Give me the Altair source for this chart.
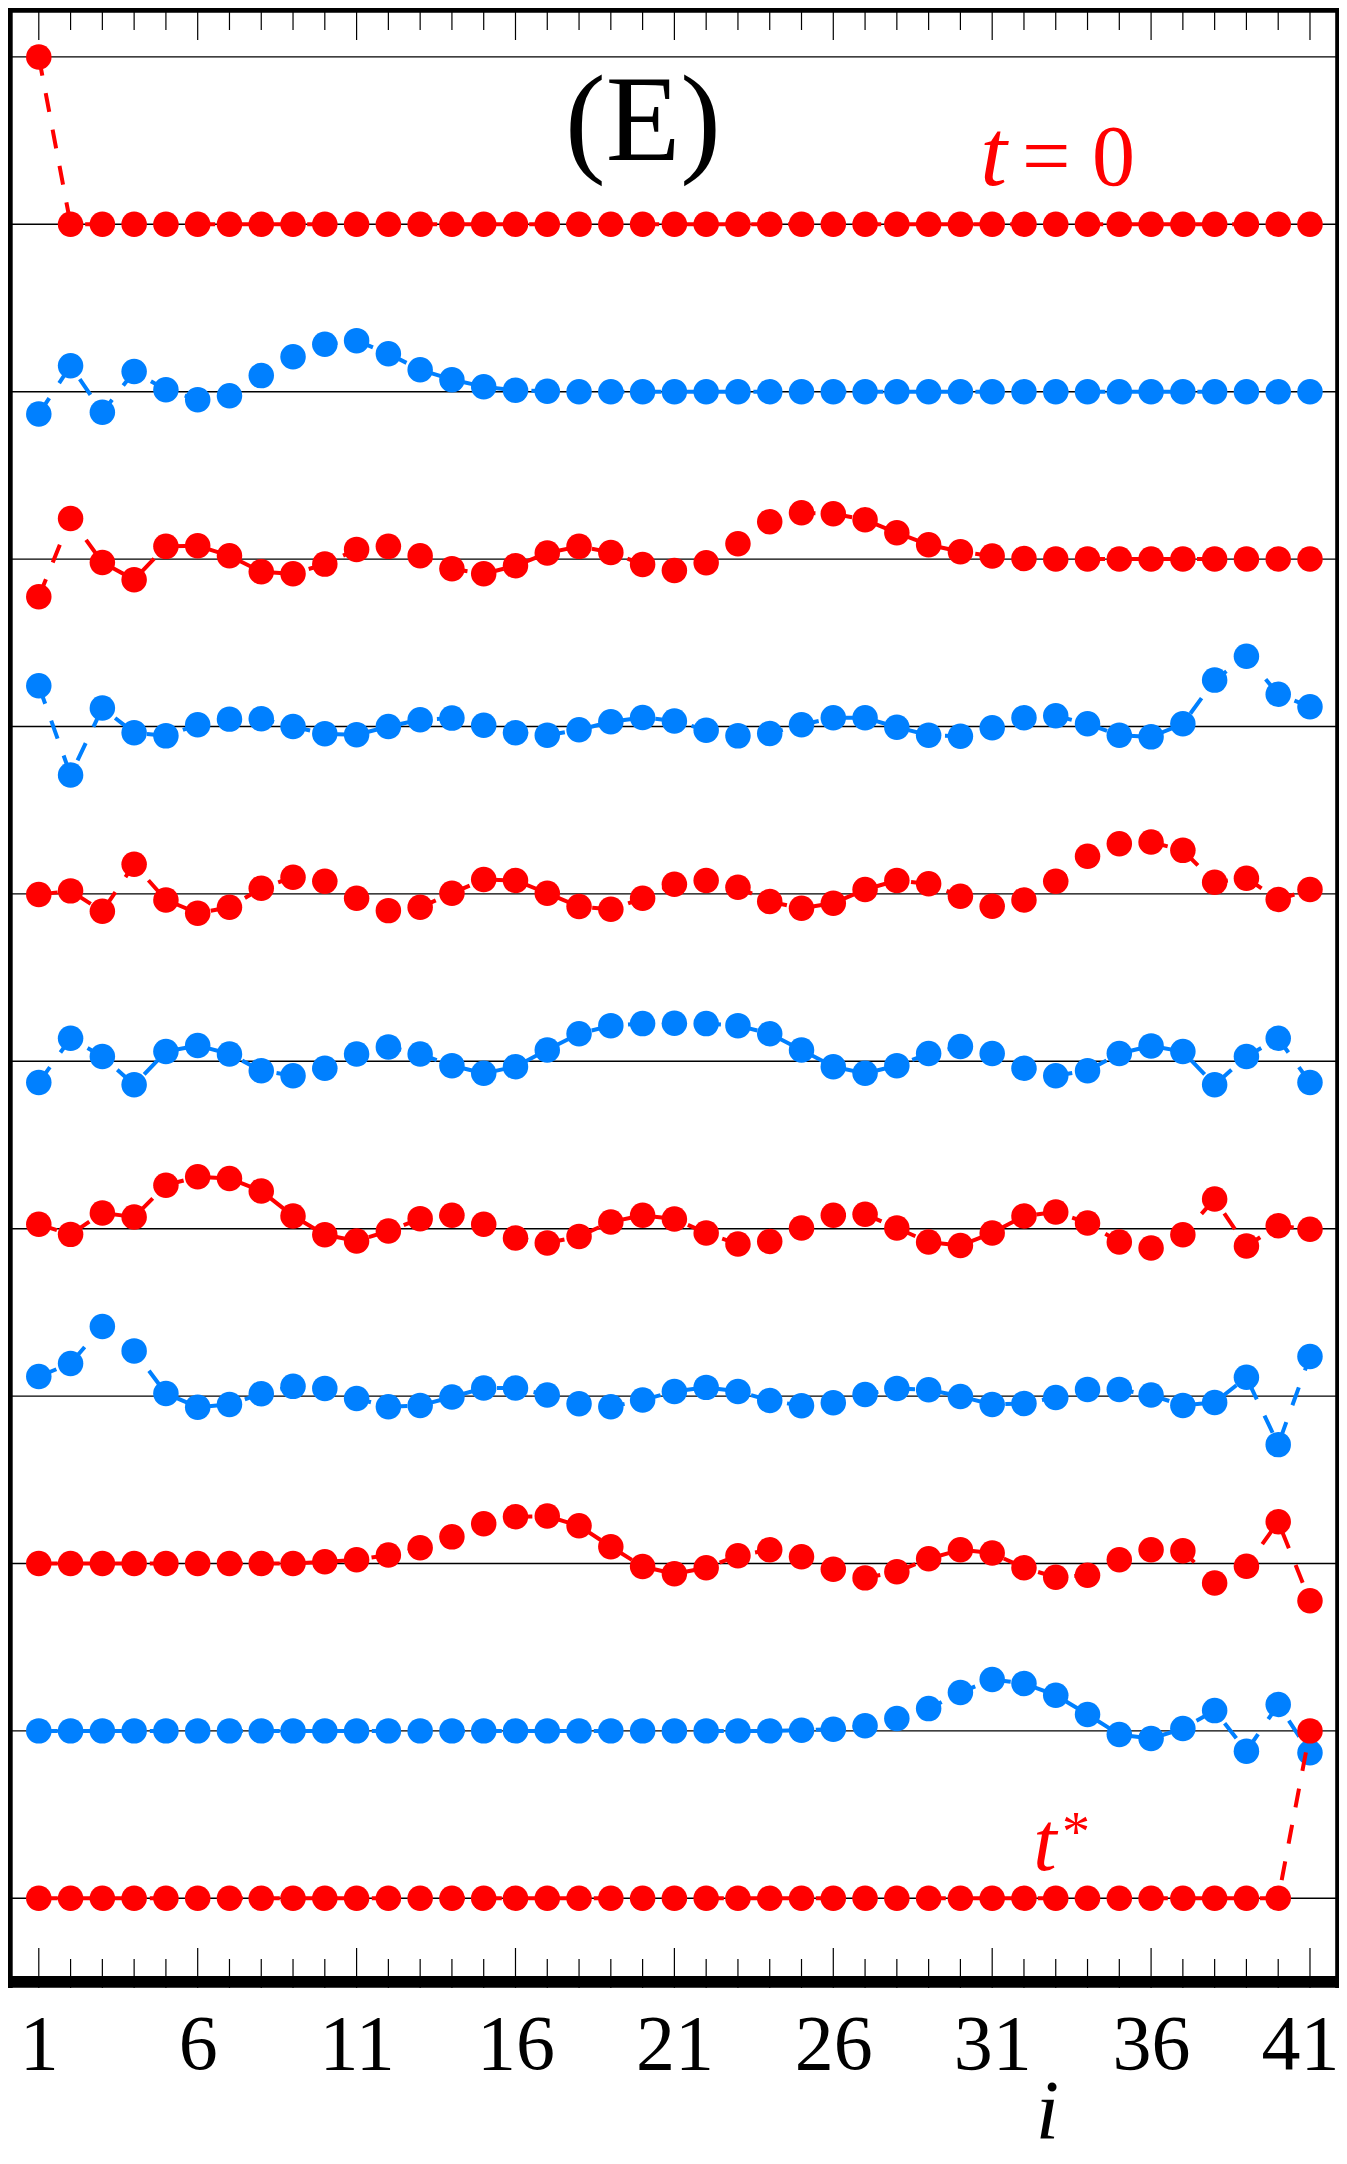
import altair as alt
import pandas as pd

# ---------------- data ----------------
i_values = list(range(1, 42))
major_ticks = [1, 6, 11, 16, 21, 26, 31, 36, 41]
minor_ticks = [k for k in i_values if k not in major_ticks]
tick_labels = [1, 6, 11, 16, 21, 26, 31, 36, 41]

row0 = [1.0, 0, 0, 0, 0, 0, 0, 0, 0, 0, 0, 0, 0, 0, 0, 0, 0, 0, 0, 0, 0,
        0, 0, 0, 0, 0, 0, 0, 0, 0, 0, 0, 0, 0, 0, 0, 0, 0, 0, 0, 0]
row1 = [-0.133, 0.155, -0.123, 0.120, 0.012, -0.048, -0.024, 0.096, 0.209, 0.283,
        0.305, 0.227, 0.131, 0.072, 0.030, 0.008, 0.002, 0, 0, 0,
        0, 0, 0, 0, 0, 0, 0, 0, 0, 0,
        0, 0, 0, 0, 0, 0, 0, 0, 0, 0, 0]
row2 = [-0.225, 0.243, -0.020, -0.123, 0.076, 0.080, 0.020, -0.076, -0.088, -0.030,
        0.058, 0.076, 0.020, -0.058, -0.088, -0.040, 0.036, 0.076, 0.040, -0.032,
        -0.068, -0.022, 0.092, 0.223, 0.277, 0.271, 0.235, 0.157, 0.086, 0.044,
        0.018, 0.004, 0, 0, 0, 0, 0, 0, 0, 0, 0]
row3 = [0.243, -0.290, 0.110, -0.038, -0.056, 0.010, 0.044, 0.046, 0.000, -0.044,
        -0.050, 0.000, 0.040, 0.050, 0.008, -0.038, -0.052, -0.020, 0.028, 0.054,
        0.033, -0.022, -0.056, -0.042, 0.010, 0.052, 0.052, -0.004, -0.052, -0.058,
        -0.008, 0.052, 0.064, 0.016, -0.052, -0.062, 0.016, 0.277, 0.420, 0.193, 0.118]
row4 = [-0.004, 0.018, -0.104, 0.177, -0.036, -0.115, -0.080, 0.034, 0.100, 0.076,
        -0.026, -0.100, -0.080, 0.004, 0.086, 0.080, 0.004, -0.076, -0.092, -0.026,
        0.058, 0.080, 0.040, -0.046, -0.086, -0.056, 0.026, 0.080, 0.060, -0.014,
        -0.074, -0.036, 0.076, 0.225, 0.300, 0.310, 0.260, 0.070, 0.094, -0.034, 0.026]
row5 = [-0.127, 0.137, 0.028, -0.140, 0.058, 0.094, 0.044, -0.056, -0.086, -0.042,
        0.044, 0.086, 0.044, -0.026, -0.072, -0.032, 0.068, 0.165, 0.213, 0.225,
        0.227, 0.225, 0.213, 0.165, 0.068, -0.032, -0.072, -0.026, 0.046, 0.088,
        0.046, -0.042, -0.086, -0.056, 0.046, 0.092, 0.058, -0.140, 0.028, 0.137, -0.127]
row6 = [0.026, -0.034, 0.094, 0.070, 0.260, 0.310, 0.300, 0.225, 0.076, -0.036,
        -0.074, -0.014, 0.060, 0.080, 0.026, -0.056, -0.086, -0.046, 0.040, 0.080,
        0.058, -0.026, -0.092, -0.076, 0.004, 0.080, 0.086, 0.004, -0.080, -0.100,
        -0.026, 0.076, 0.100, 0.034, -0.080, -0.115, -0.036, 0.177, -0.104, 0.018, -0.004]
row7 = [0.117, 0.195, 0.416, 0.270, 0.016, -0.066, -0.050, 0.014, 0.058, 0.046,
        -0.014, -0.064, -0.056, -0.006, 0.048, 0.048, 0.006, -0.046, -0.064, -0.024,
        0.028, 0.052, 0.028, -0.026, -0.058, -0.040, 0.010, 0.046, 0.038, -0.002,
        -0.050, -0.044, -0.008, 0.040, 0.040, 0.006, -0.056, -0.038, 0.112, -0.290, 0.237]
row8 = [0, 0, 0, 0, 0, 0, 0, 0, 0, 0.010,
        0.022, 0.050, 0.094, 0.159, 0.237, 0.279, 0.283, 0.225, 0.100, -0.018,
        -0.062, -0.026, 0.046, 0.082, 0.040, -0.034, -0.086, -0.050, 0.028, 0.082,
        0.062, -0.026, -0.082, -0.070, 0.022, 0.082, 0.076, -0.116, -0.016, 0.249, -0.223]
row9 = [0, 0, 0, 0, 0, 0, 0, 0, 0, 0,
        0, 0, 0, 0, 0, 0, 0, 0, 0, 0,
        0, 0, 0, 0, 0.004, 0.010, 0.030, 0.074, 0.133, 0.229,
        0.307, 0.283, 0.213, 0.098, -0.022, -0.046, 0.014, 0.121, -0.121, 0.157, -0.131]
row10 = [0, 0, 0, 0, 0, 0, 0, 0, 0, 0, 0, 0, 0, 0, 0, 0, 0, 0, 0, 0,
         0, 0, 0, 0, 0, 0, 0, 0, 0, 0, 0, 0, 0, 0, 0, 0, 0, 0, 0, 0, 1.0]

rows = [row0, row1, row2, row3, row4, row5, row6, row7, row8, row9, row10]
RED = "#FF0000"
BLUE = "#0080FF"
row_colors = [RED, BLUE, RED, BLUE, RED, BLUE, RED, BLUE, RED, BLUE, RED]
baselines = [1, 0, -1, -2, -3, -4, -5, -6, -7, -8, -9, -10]

# ---------------- layout ----------------
W, H = 1331, 1980
PAD_BOTTOM = 168
FONT = "Liberation Serif"
xscale = alt.Scale(domain=[0.031, 41.913], nice=False, zero=False)
yscale = alt.Scale(domain=[-10.536, 1.2921], nice=False, zero=False)
xaxis = alt.Axis(values=tick_labels, ticks=False, tickSize=0, domain=False, grid=False,
                 labelFont=FONT, labelFontSize=78, labelColor="black",
                 labelBaseline="alphabetic", labelPadding=80, labelFlush=False,
                 labelOverlap=False,
                 labelOffset={"condition": {"test": "datum.value == 41", "value": -10}, "value": 0},
                 title="i", titleFont=FONT, titleFontSize=84,
                 titleFontStyle="italic", titleFontWeight="normal", titleColor="black",
                 titleX=1039, titleY=150, titleAlign="center", titleBaseline="alphabetic")
X = alt.X("i:Q", scale=xscale, axis=xaxis)
Y = alt.Y("v:Q", scale=yscale, axis=None)

layers = []

grid_df = pd.DataFrame({"v": baselines})
layers.append(alt.Chart(grid_df).mark_rule(color="black", strokeWidth=1.4).encode(
    y=Y, x=alt.value(0), x2=alt.value(W)))

maj_df = pd.DataFrame({"i": major_ticks})
min_df = pd.DataFrame({"i": minor_ticks})
for df, top_len, bot_start in ((maj_df, 32, 1940), (min_df, 22, 1951)):
    layers.append(alt.Chart(df).mark_rule(color="black", strokeWidth=1.2).encode(
        x=X, y=alt.value(0), y2=alt.value(top_len)))
    layers.append(alt.Chart(df).mark_rule(color="black", strokeWidth=1.2).encode(
        x=X, y=alt.value(bot_start), y2=alt.value(H)))

for k, (vals, col) in enumerate(zip(rows, row_colors)):
    df = pd.DataFrame({"i": i_values, "v": [-k + val for val in vals]})
    layers.append(alt.Chart(df).mark_line(color=col, strokeWidth=4,
                                          strokeDash=[19, 18]).encode(x=X, y=Y))
    layers.append(alt.Chart(df).mark_circle(color=col, size=650, opacity=1).encode(x=X, y=Y))

# frame (thick black box)
frame_v = [(0, 9.6), (1973.9, 11.7)]
for yy, sw in frame_v:
    layers.append(alt.Chart(grid_df.head(1)).mark_rule(color="black", strokeWidth=sw).encode(
        y=alt.value(yy), x=alt.value(0), x2=alt.value(W)))
frame_h = [(0, 9.4), (W, 7.6)]
for xx, sw in frame_h:
    layers.append(alt.Chart(grid_df.head(1)).mark_rule(color="black", strokeWidth=sw).encode(
        x=alt.value(xx), y=alt.value(0), y2=alt.value(H)))


def label(txt, xv, yv, size, color, style="normal", align="center"):
    d = pd.DataFrame({"i": [xv], "v": [yv], "t": [txt]})
    return alt.Chart(d).mark_text(font=FONT, fontSize=size, fontStyle=style, color=color,
                                  align=align, baseline="alphabetic").encode(
        x=X, y=Y, text="t:N")


layers.append(label("(E)", 20.01, 0.384, 122, "black"))
layers.append(label("t", 31.04, 0.2348, 96, RED, "italic"))
layers.append(label("= 0", 31.94, 0.2348, 86, RED, "normal", "left"))
layers.append(label("t", 32.66, -9.831, 84, RED, "italic"))
layers.append(label("*", 33.64, -9.7175, 56, RED))

chart = alt.layer(*layers).properties(
    width=W, height=H,
    padding={"left": 0, "top": 0, "right": 0, "bottom": PAD_BOTTOM},
    autosize=alt.AutoSizeParams(type="none"),
    background="white"
).configure_view(stroke=None, strokeWidth=0)

chart.save("out.html", embed_options={"renderer": "svg", "actions": False})
